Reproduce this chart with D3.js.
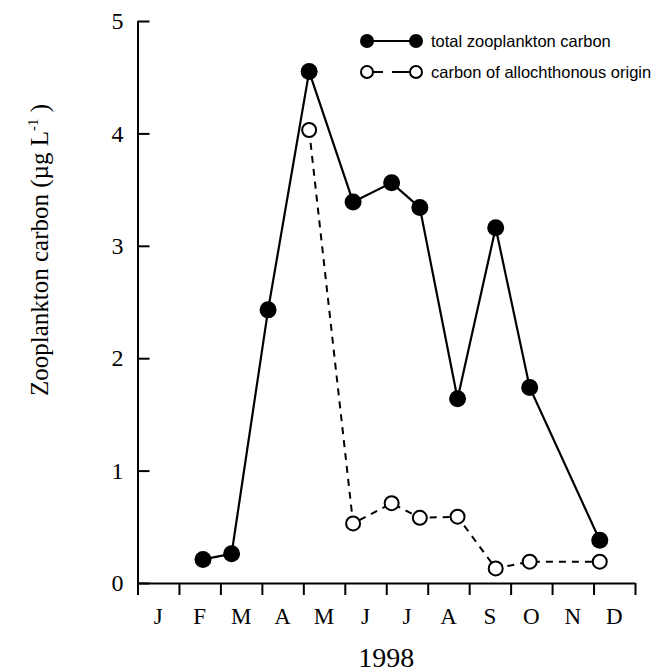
<!DOCTYPE html>
<html lang="en">
<head>
    <meta charset="UTF-8">
    <title>Zooplankton carbon 1998</title>
    <script src="https://d3js.org/d3.v7.min.js"></script>
    <style>
        body{ margin: 0; background: #fff; }
        svg{ display: block; }
        text{
            font-family: 'Liberation Serif', 'Times New Roman', serif;
            fill: #000;
        }
        .legend text{
            font-family: 'Liberation Sans', Arial, sans-serif;
            font-size: 16.5px;
        }
        .axis path, .axis line{ stroke: #000; stroke-width: 2; }
    </style>
</head>
<body>
    <svg width="670" height="672"></svg>
    <script>
        // values (x = months since 1 Jan)
        const months = ["J","F","M","A","M","J","J","A","S","O","N","D"];
        const yTicks = [0, 1, 2, 3, 4, 5];
        const totalTime = [1.58, 2.27, 3.15, 4.14, 5.2, 6.13, 6.81, 7.72, 8.64, 9.46, 11.15];
        const totalCarbon = [0.21, 0.26, 2.43, 4.55, 3.39, 3.56, 3.34, 1.64, 3.16, 1.74, 0.38];
        const alloTime = [4.14, 5.2, 6.13, 6.81, 7.72, 8.64, 9.46, 11.15];
        const alloCarbon = [4.03, 0.53, 0.71, 0.58, 0.59, 0.13, 0.19, 0.19];

        const svg = d3.select("svg");
        const plotL = 137.5, plotR = 635, plotT = 21, plotB = 583;

        const scaleX = d3.scaleLinear().domain([0, 12]).range([plotL, plotR]);
        const scaleY = d3.scaleLinear().domain([0, 5]).range([plotB, plotT]);

        const total = totalTime.map((t, i) => ({t: t, v: totalCarbon[i]}));
        const allo = alloTime.map((t, i) => ({t: t, v: alloCarbon[i]}));

        drawAxes();
        draw();
        drawLegend();

        function drawAxes(){
            // y axis, ticks pointing inward
            const axisY = d3.axisLeft(scaleY)
                .tickValues(yTicks)
                .tickFormat(d3.format("d"))
                .tickSizeInner(-12)
                .tickSizeOuter(0)
                .tickPadding(14);
            svg.append("g").attr("class", "axis")
                .attr("transform", `translate(${plotL},0)`)
                .call(axisY)
                .attr("font-family", null)
                .attr("font-size", 24);

            // x axis, month boundaries
            const axisX = d3.axisBottom(scaleX)
                .tickValues(d3.range(0, 13))
                .tickFormat("")
                .tickSizeInner(12)
                .tickSizeOuter(0);
            svg.append("g").attr("class", "axis")
                .attr("transform", `translate(0,${plotB})`)
                .call(axisX);

            // month labels centred between ticks
            svg.append("g").selectAll("text.month")
                .data(months)
                .join("text").attr("class", "month")
                .attr("x", (d, i) => scaleX(i + 0.5))
                .attr("y", plotB + 41)
                .attr("text-anchor", "middle")
                .attr("font-size", 23)
                .text(d => d);

            svg.append("text")
                .attr("x", (plotL + plotR) / 2)
                .attr("y", 667)
                .attr("text-anchor", "middle")
                .attr("font-size", 28)
                .text("1998");

            const yl = svg.append("text")
                .attr("transform", `translate(48,250) rotate(-90)`)
                .attr("text-anchor", "middle")
                .attr("font-size", 25);
            yl.append("tspan").text("Zooplankton carbon (\u00b5g L");
            yl.append("tspan").attr("dy", -10).attr("font-size", 15).text("-1");
            yl.append("tspan").attr("dy", 10).text(" )");
        }

        function draw(){
            const line = d3.line().x(d => scaleX(d.t)).y(d => scaleY(d.v));

            svg.append("path").datum(allo)
                .attr("fill", "none").attr("stroke", "#000")
                .attr("stroke-width", 2).attr("stroke-dasharray", "7,6")
                .attr("d", line);
            svg.append("path").datum(total)
                .attr("fill", "none").attr("stroke", "#000")
                .attr("stroke-width", 2.2)
                .attr("d", line);

            svg.selectAll("circle.allo")
                .data(allo)
                .join("circle").attr("class", "allo")
                .attr("r", 7)
                .attr("fill", "#fff").attr("stroke", "#000").attr("stroke-width", 2)
                .attr("cx", d => scaleX(d.t))
                .attr("cy", d => scaleY(d.v));
            svg.selectAll("circle.total")
                .data(total)
                .join("circle").attr("class", "total")
                .attr("r", 8.5)
                .attr("fill", "#000")
                .attr("cx", d => scaleX(d.t))
                .attr("cy", d => scaleY(d.v));
        }

        function drawLegend(){
            const lg = svg.append("g").attr("class", "legend");
            const x1 = 367, x2 = 416, tx = 431;

            lg.append("line").attr("x1", x1).attr("x2", x2).attr("y1", 41).attr("y2", 41)
                .attr("stroke", "#000").attr("stroke-width", 2);
            lg.selectAll("circle.lt").data([x1, x2]).join("circle").attr("class", "lt")
                .attr("cx", d => d).attr("cy", 41).attr("r", 7).attr("fill", "#000");
            lg.append("text").attr("x", tx).attr("y", 46.5).text("total zooplankton carbon");

            // two short dashes between the open markers
            lg.selectAll("line.ld").data([[x1, 383], [392, x2]]).join("line").attr("class", "ld")
                .attr("x1", d => d[0]).attr("x2", d => d[1]).attr("y1", 72).attr("y2", 72)
                .attr("stroke", "#000").attr("stroke-width", 2);
            lg.selectAll("circle.la").data([x1, x2]).join("circle").attr("class", "la")
                .attr("cx", d => d).attr("cy", 72).attr("r", 6)
                .attr("fill", "#fff").attr("stroke", "#000").attr("stroke-width", 2);
            lg.append("text").attr("x", tx).attr("y", 77.5).text("carbon of allochthonous origin");
        }
    </script>
</body>
</html>
